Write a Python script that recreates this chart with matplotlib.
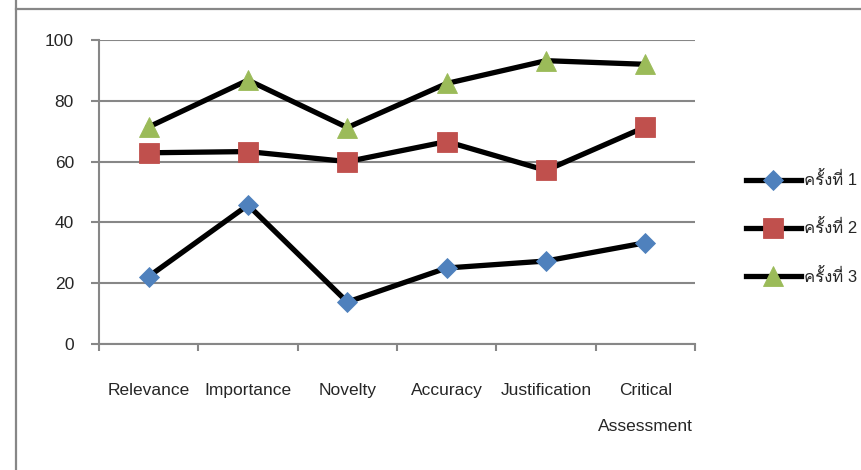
import matplotlib
matplotlib.use("Agg")
import matplotlib.pyplot as plt
from matplotlib import font_manager
from matplotlib.ft2font import FT2Font
from matplotlib.lines import Line2D
import numpy as np

# data
categories = ["Relevance", "Importance", "Novelty", "Accuracy", "Justification",
              "Critical\nAssessment"]
round_1 = [22.2, 45.7, 13.8, 25.0, 27.3, 33.3]
round_2 = [62.9, 63.3, 60.0, 66.6, 57.1, 71.4]
round_3 = [71.4, 86.8, 71.2, 85.7, 93.2, 92.0]
series_labels = ["ครั้งที่ 1", "ครั้งที่ 2", "ครั้งที่ 3"]
y_ticks = [0, 20, 40, 60, 80, 100]


# find some installed font that has Thai glyphs
def find_thai_font():
    for f in font_manager.fontManager.ttflist:
        try:
            if ord("ค") in FT2Font(f.fname).get_charmap():
                return f.name
        except Exception:
            pass
    return None

families = ["Liberation Sans", "DejaVu Sans"]
thai = find_thai_font()
if thai:
    families = ["Liberation Sans", thai, "DejaVu Sans"]
plt.rcParams["font.family"] = families
plt.rcParams["font.size"] = 12.5
plt.rcParams["text.color"] = "#262626"

grey = "#878787"

fig = plt.figure(figsize=(8.62, 4.70), dpi=100)
ax = fig.add_axes([99 / 862, 1 - 344 / 470, (695 - 99) / 862, (344 - 40) / 470])

x = np.arange(len(categories))
styles = [("D", "#4F81BD", 10.0), ("s", "#C0504D", 14.0), ("^", "#9BBB59", 14.0)]
for vals, lab, (m, c, ms) in zip([round_1, round_2, round_3], series_labels, styles):
    ax.plot(x, vals, color="black", lw=3.8, marker=m, markersize=ms,
            markerfacecolor=c, markeredgecolor=c, markeredgewidth=0.6,
            label=lab, solid_joinstyle="round", zorder=3)

ax.set_xlim(-0.5, len(categories) - 0.5)
ax.set_ylim(0, 100)
ax.set_yticks(y_ticks)
ax.yaxis.grid(True, color=grey, lw=1.5)
ax.set_axisbelow(True)

for s in ["top", "right"]:
    ax.spines[s].set_visible(False)
for s in ["left", "bottom"]:
    ax.spines[s].set_color(grey)
    ax.spines[s].set_linewidth(1.5)

ax.tick_params(axis="y", length=6, width=1.5, color=grey, pad=12, labelsize=12.5,
               labelcolor="#262626")
ax.set_xticks(x)
ax.set_xticklabels(categories)
ax.set_xticks(np.arange(len(categories) + 1) - 0.5, minor=True)
ax.tick_params(axis="x", which="major", length=0, pad=28, labelsize=12.5,
               labelcolor="#262626")
ax.tick_params(axis="x", which="minor", length=5, width=1.5, color=grey)
for t in ax.get_xticklabels():
    t.set_linespacing(2.75)

ax.legend(loc="center left", bbox_to_anchor=(746 / 862, 1 - 228 / 470),
          bbox_transform=fig.transFigure, frameon=False, handlelength=3.3,
          handletextpad=0.2, labelspacing=1.87, fontsize=12, borderaxespad=0,
          borderpad=0)

# outer frame pieces from the original sheet
fig.add_artist(Line2D([16 / 862, 16 / 862], [0, 1], color=grey, lw=1.6))
fig.add_artist(Line2D([16 / 862, 1], [1 - 8.5 / 470, 1 - 8.5 / 470], color=grey, lw=1.6))

fig.savefig("out.png", dpi=100)
